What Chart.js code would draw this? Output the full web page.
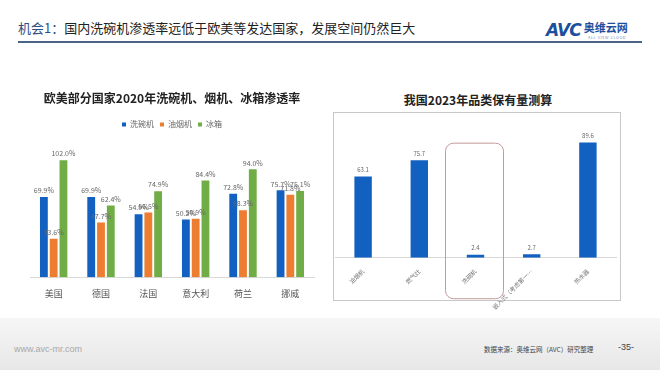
<!DOCTYPE html>
<html>
<head>
<meta charset="utf-8">
<script src="https://cdn.jsdelivr.net/npm/chart.js@4.4.1/dist/chart.umd.min.js"></script>
<style>
  body { margin: 0; width: 660px; height: 370px; position: relative; overflow: hidden; background: #fff;
         font-family: "Noto Sans CJK SC", "Noto Sans", sans-serif; }
  .abs { position: absolute; }
  #head { left: 18px; top: 18px; font-size: 13px; color: #222; white-space: nowrap; }
  #head b { color: #2e4f86; font-weight: normal; }
  #rule { left: 18px; top: 41px; width: 624px; height: 2px; background: #4a6486; }
  #logo { left: 546px; top: 17px; white-space: nowrap; }
  #logo .avc { font-family: "DejaVu Sans", sans-serif; font-weight: bold; font-style: italic; font-size: 17px; color: #1d4f9c; letter-spacing: -1px; }
  #logo .cn { font-size: 11px; color: #1d4f9c; font-weight: bold; vertical-align: 4px; margin-left: 3px; }
  #logo .en { position: absolute; left: 42px; top: 17px; font-size: 4px; color: #7a8fb5; letter-spacing: 0.5px; }
  #rtitle { left: 330px; top: 91px; width: 296px; text-align: center; font-size: 12px; font-weight: bold; color: #222; }
  #box { left: 333px; top: 112px; width: 288px; height: 189px; border: 1px solid #c8c8c8; box-sizing: border-box; }
  #foot { left: 0; top: 318px; width: 660px; height: 52px; background: linear-gradient(#f6f6f6, #e7e7e7); }
  #url { left: 14px; top: 344px; font-size: 9px; color: #a8a8a8; font-family: "Liberation Sans", sans-serif; }
  #src { left: 484px; top: 344px; font-size: 6.5px; color: #444; }
  #page { left: 618px; top: 342px; font-size: 9px; color: #444; font-family: "Liberation Sans", sans-serif; }
</style>
</head>
<body>
<div class="abs" id="foot"></div>
<div class="abs" id="head"><b>机会1：</b>国内洗碗机渗透率远低于欧美等发达国家，发展空间仍然巨大</div>
<div class="abs" id="rule"></div>
<div class="abs" id="logo"><span class="avc">AVC</span><span class="cn">奥维云网</span><span class="en">ALL VIEW CLOUD</span></div>
<div class="abs" id="rtitle">我国2023年品类保有量测算</div>
<div class="abs" id="box"></div>
<canvas class="abs" id="left" width="292" height="220" style="left:25px;top:89px"></canvas>
<canvas class="abs" id="right" width="290" height="200" style="left:333px;top:113px"></canvas>
<div class="abs" id="url">www.avc-mr.com</div>
<div class="abs" id="src">数据来源：奥维云网（AVC）研究整理</div>
<div class="abs" id="page">-35-</div>
<script>
// 左图：欧美部分国家2020年渗透率（%）
const countries = ["美国", "德国", "法国", "意大利", "荷兰", "挪威"]
const dishwasher = [69.9, 69.9, 54.9, 50.2, 72.8, 75.7]
const rangeHood = [33.6, 47.7, 56.5, 50.9, 58.3, 71.8]
const fridge = [102.0, 62.4, 74.9, 84.4, 94.0, 75.1]

// 右图：我国2023年品类保有量测算
const categories = ["油烟机", "燃气灶", "洗碗机", "嵌入式（考虑第一…", "热水器"]
const stock = [63.1, 75.7, 2.4, 2.7, 89.6]

const BLUE = "#1260c0"
const ORANGE = "#ed7d31"
const GREEN = "#70ad47"

// 柱顶数值
function valueLabels(fmt, size, gap) {
  return {
    id: "valueLabels",
    afterDatasetsDraw(chart) {
      const ctx = chart.ctx
      ctx.save()
      ctx.font = size + 'px "Noto Sans CJK SC", sans-serif'
      ctx.fillStyle = "#666"
      ctx.textAlign = "center"
      ctx.textBaseline = "bottom"
      chart.data.datasets.forEach((ds, i) => {
        chart.getDatasetMeta(i).data.forEach((bar, j) => {
          ctx.fillText(fmt(ds.data[j]), bar.x, bar.y - gap)
        })
      })
      ctx.restore()
    },
  }
}

new Chart(document.getElementById("left"), {
  type: "bar",
  data: {
    labels: countries,
    datasets: [
      { label: "洗碗机", data: dishwasher, backgroundColor: BLUE },
      { label: "油烟机", data: rangeHood, backgroundColor: ORANGE },
      { label: "冰箱", data: fridge, backgroundColor: GREEN },
    ],
  },
  options: {
    responsive: false,
    animation: false,
    categoryPercentage: 0.62,
    barPercentage: 0.8,
    layout: { padding: { left: 5, right: 3, bottom: 7 } },
    plugins: {
      title: {
        display: true,
        text: "欧美部分国家2020年洗碗机、烟机、冰箱渗透率",
        color: "#222",
        font: { size: 12, weight: "bold", family: '"Noto Sans CJK SC"' },
        padding: { top: 2, bottom: 9 },
      },
      legend: {
        labels: { boxWidth: 4, boxHeight: 4, padding: 6, color: "#666", font: { size: 8, family: '"Noto Sans CJK SC"' } },
      },
      tooltip: { enabled: false },
    },
    scales: {
      x: {
        grid: { display: false },
        border: { color: "#d9d9d9" },
        ticks: { color: "#555", font: { size: 9, family: '"Noto Sans CJK SC"' }, padding: 3 },
      },
      y: { display: false, min: 0, max: 121 },
    },
  },
  plugins: [valueLabels(v => v.toFixed(1) + "%", 7, 3)],
})

// 洗碗机圈注
const highlight = {
  id: "highlight",
  afterDraw(chart) {
    const x = chart.scales.x.getPixelForValue(2)
    const top = chart.scales.y.getPixelForValue(89)
    const bottom = chart.chartArea.bottom + 41
    const ctx = chart.ctx
    ctx.save()
    ctx.strokeStyle = "#c49a9a"
    ctx.lineWidth = 1
    ctx.beginPath()
    ctx.roundRect(x - 30, top, 58, bottom - top, 8)
    ctx.stroke()
    ctx.restore()
  },
}

new Chart(document.getElementById("right"), {
  type: "bar",
  data: {
    labels: categories,
    datasets: [{ label: "保有量", data: stock, backgroundColor: BLUE }],
  },
  options: {
    responsive: false,
    animation: false,
    categoryPercentage: 1,
    barPercentage: 0.31,
    layout: { padding: { left: 2, right: 7, top: 16 } },
    plugins: { legend: { display: false }, tooltip: { enabled: false } },
    scales: {
      x: {
        grid: { display: false },
        border: { color: "#d9d9d9" },
        ticks: { color: "#777", font: { size: 6, family: '"Noto Sans CJK SC"' }, minRotation: 45, maxRotation: 45, padding: 2 },
      },
      y: { display: false, min: 0, max: 100 },
    },
  },
  plugins: [valueLabels(v => v.toFixed(1), 6, 4), highlight],
})
</script>
</body>
</html>
